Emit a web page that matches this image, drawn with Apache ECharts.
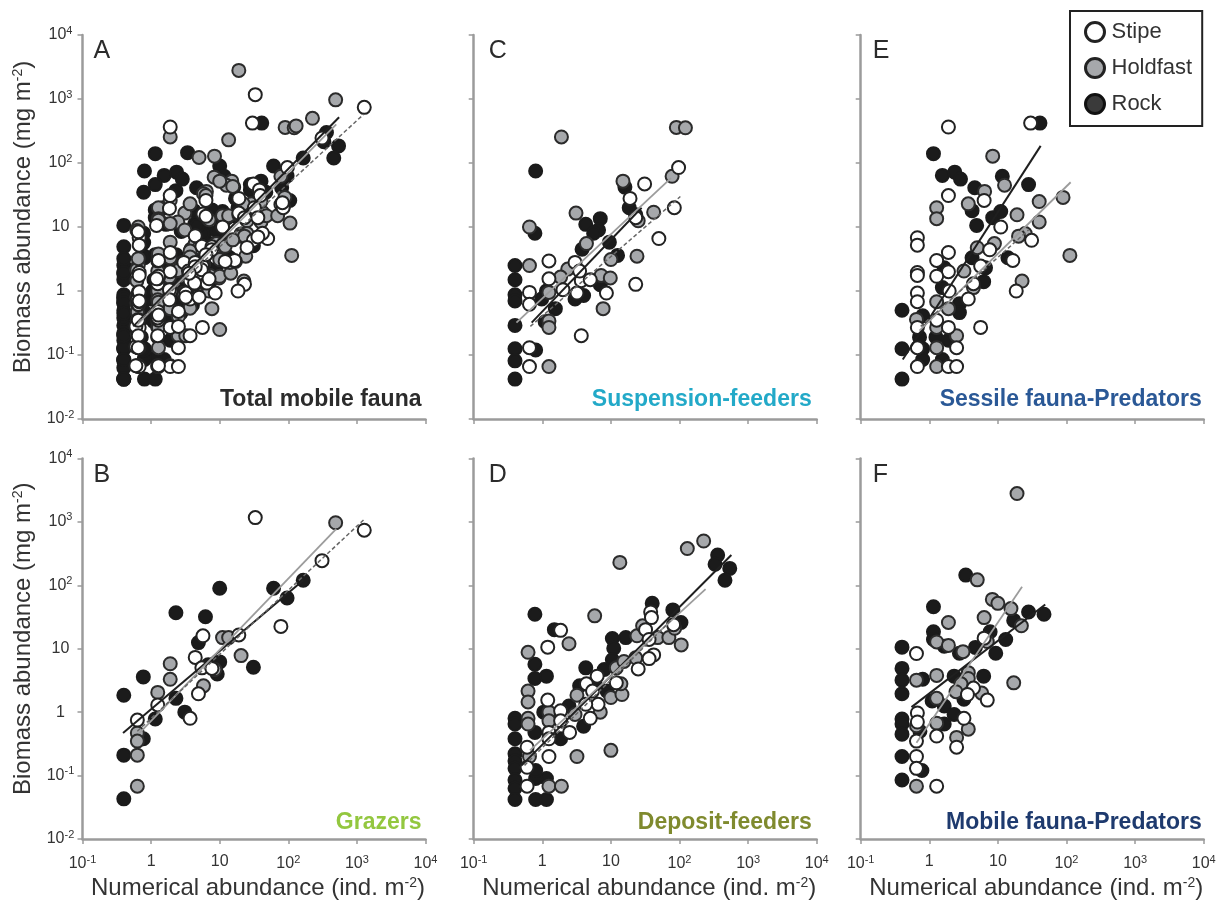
<!DOCTYPE html>
<html><head><meta charset="utf-8">
<style>html,body{margin:0;padding:0;background:#fff}#c{width:1223px;height:901px}</style>
<script src="https://cdn.jsdelivr.net/npm/echarts@6/dist/echarts.min.js"></script>
</head><body><div id="c"></div>
<script>
// ---- Grazers (B)
const grazersRock=[[.4,1.85],[.4,.21],[.4,.043],[.77,3.6],[.77,.38],[1.15,.78],[2.3,1.65],[2.3,37],[3.1,1],[4.9,12.5],[6.2,32],[6.8,5.6],[10,90],[10,6.2],[9.2,4],[31,5.1],[61,90],[96,63],[165,120]];
const grazersHold=[[490,970],[1.9,5.8],[1.9,3.3],[1.25,2.05],[.63,.47],[.63,.35],[.63,.21],[.63,.068],[5.8,2.6],[8.5,4.7],[11,15],[13.5,15],[20.5,7.8]];
const grazersStipe=[[33,1170],[1280,740],[310,245],[78,22.5],[19,16.5],[5.7,16],[4.4,7.3],[5.5,5],[7.7,4.9],[4.9,1.95],[3.7,.8],[1.25,1.3],[.63,.75]];
// ---- Suspension-feeders (C)
const suspRock=[[.4,2.5],[.4,1.5],[.4,.87],[.4,.7],[.4,.29],[.4,.125],[.4,.081],[.4,.042],[.8,75],[.78,8],[.8,.12],[1.15,1],[.98,.75],[1.55,.53],[1.1,.33],[3,.75],[4,.85],[7,1.25],[3.8,4.5],[4.3,11],[7,13.5],[6.6,9],[5.6,8],[9.5,5.8],[12.5,3.6],[16,42],[18.5,20],[23,15.5]];
const suspHold=[[1.9,255],[90,360],[122,355],[78,62],[15,52],[42,17],[3.1,16.5],[.65,10],[4.4,5.5],[.65,2.5],[2.35,2.2],[1.85,1.65],[1.25,.95],[1.25,.34],[1.25,.27],[1.25,.066],[7.7,.53],[10,3.1],[24,3.5],[7.2,1.75],[9.8,1.6],[25,12.5]];
const suspStipe=[[1.25,2.95],[1.25,1.55],[.65,.95],[.65,.62],[.65,.13],[.65,.066],[3,2.8],[3.7,1.45],[5,1.5],[3.2,.93],[2,1.05],[8.6,.93],[3.7,.2],[23,1.27],[50,6.6],[84,20],[31,47],[19,28],[23,14],[97,85],[3.5,2.05]];
// ---- Sessile fauna-Predators (E)
const sessileRock=[[41,420],[1.15,140],[1.55,64],[2.35,72],[2.85,56],[4.6,41],[11.6,62],[28,46],[4.2,18],[4.9,10.6],[8.4,14],[11,17.5],[4.2,3.3],[14,3.3],[6.6,2.3],[6.2,1.4],[1.65,2.3],[1.55,1.13],[2.75,.63],[2.75,.46],[.4,.5],[.8,.41],[.72,.19],[1.25,.19],[1.9,.17],[.4,.125],[.8,.125],[.8,.085],[1.55,.085],[.4,.042]];
const sessileHold=[[8.4,128],[12.5,45],[6.4,36],[3.7,23],[1.28,20],[1.28,13.5],[19,15.5],[40,25],[89,29],[40,12],[25,7.9],[20,7.2],[8.9,5.5],[5,4.75],[112,3.6],[22.5,1.43],[3.2,2.05],[4.4,1.13],[1.28,.68],[1.9,.53],[.65,.36],[1.28,.27],[2.5,.2],[1.28,.13],[1.28,.066]];
const sessileStipe=[[30,420],[1.9,365],[1.9,31],[6.3,26],[11,10],[31,6.2],[.67,6.8],[.67,5.2],[1.9,4],[7.6,4.4],[1.28,3],[16.5,3],[.67,1.95],[.67,1.75],[1.9,2],[1.28,1.7],[4.4,1.3],[5.6,2.45],[1.95,1],[.67,.93],[.67,.68],[18.5,1],[3.7,.75],[1.28,.35],[.67,.27],[1.9,.27],[5.6,.27],[.67,.13],[2.5,.13],[.67,.066],[1.9,.066],[2.5,.066]];
// ---- Deposit-feeders (D)
const depositRock=[[.4,.8],[.4,.65],[.4,.38],[.4,.22],[.4,.17],[.4,.13],[.4,.085],[.4,.063],[.4,.042],[.8,.042],[1.15,.042],[1.15,.09],[.8,.09],[.8,.12],[.78,35],[1.5,20],[.78,5.7],[.78,3.4],[1.15,3.7],[.78,.48],[1.85,.38],[1.05,1],[2.45,1.25],[4,.6],[3.5,2.6],[4.3,5],[8,4.7],[10.5,14.5],[11,10.2],[16.5,15],[10.5,6.7],[40,52],[80,41],[105,26],[360,300],[330,215],[540,185],[460,120],[5.9,2.7],[8.8,2.15]];
const depositHold=[[225,500],[130,380],[13.5,230],[5.8,33],[2.45,12],[.62,8.8],[.62,2.15],[.62,1.45],[.62,.8],[.62,.65],[1.25,1],[1.25,.73],[3.2,1.85],[3,.92],[3.2,.2],[10,.25],[1.25,.068],[1.9,.068],[.65,.2],[10,1.7],[14.5,1.9],[14,2.8],[7,1],[12,5],[23,7.2],[15.5,6.3],[24,16],[29,23],[48,15],[70,15],[106,11.5],[85,21]];
const depositStipe=[[1.85,19.5],[1.2,10.6],[38,38],[39,31],[32,20],[36,14],[82,24],[42,8],[36,7],[25,4.8],[6.3,3.7],[4.4,2.8],[12,2.9],[5.4,2.15],[6.5,1.33],[4.3,1.33],[5,.8],[1.2,1.55],[1.85,1.05],[1.85,.73],[2.5,.48],[1.25,.48],[1.25,.38],[1.25,.2],[.6,.28],[.6,.135],[.6,.068]];
// ---- Mobile fauna-Predators (F)
const mobileRock=[[.4,10.6],[.4,4.9],[.4,3.2],[.4,1.95],[.4,.78],[.4,.65],[.4,.45],[.4,.2],[.4,.085],[.8,3.3],[.78,.12],[1.15,46],[1.15,18.5],[1.15,14],[1.65,11],[2.75,8.5],[4.7,10.5],[3.4,145],[2.3,3.7],[6.2,3.7],[1.1,1.5],[1.65,1.25],[3.2,1.6],[2.3,.92],[1.65,.65],[.73,.5],[7.7,18.5],[9.3,8.5],[13,14],[17,28],[28,38],[47,35]];
const mobileHold=[[19,2800],[5,122],[8.3,60],[10,52],[15.5,43],[6.3,31],[1.9,26],[22,23],[1.28,12.8],[1.9,11.3],[3.1,9],[7,13],[.65,3.2],[1.28,3.8],[3.7,4.2],[3.7,3.4],[2.9,2.8],[2.45,2.1],[5.8,2],[17,2.9],[1.28,1.65],[1.28,.67],[3.7,.54],[2.5,.4],[.65,.61],[.65,.068]];
const mobileStipe=[[.65,8.4],[6.3,14.7],[4.4,2.4],[3.6,1.9],[7,1.55],[.67,.97],[.67,.7],[3.2,.8],[1.28,.42],[.65,.35],[2.5,.28],[.65,.2],[.65,.13],[1.28,.068]];
// ---- Total mobile fauna (A): the union of the trophic groups
const totalRock=[...grazersRock,...suspRock,...sessileRock,...depositRock,...mobileRock];
const totalHold=[...grazersHold,...suspHold,...sessileHold,...depositHold,...mobileHold];
const totalStipe=[...grazersStipe,...suspStipe,...sessileStipe,...depositStipe,...mobileStipe];
// ---- Fitted line end points
const totalFits={rock:[[.55,.28],[550,520]],hold:[[.63,.3],[500,400]],stipe:[[.65,.33],[1250,575]]};
const grazersFits={rock:[[.39,.47],[165,120]],hold:[[.68,.47],[500,780]],stipe:[[.63,.5],[1280,1100]]};
const suspFits={rock:[[.7,.32],[28,20]],hold:[[.42,.32],[75,58]],stipe:[[.67,.28],[103,30]]};
const depositFits={rock:[[.5,.145],[570,300]],hold:[[.66,.25],[240,87]],stipe:[[.55,.145],[95,36]]};
const sessileFits={rock:[[.41,.085],[42,185]],hold:[[.72,.24],[115,50]],stipe:[[.75,.28],[28,9]]};
const mobileFits={rock:[[.55,1.2],[49,50]],hold:[[.65,.33],[22.5,95]]};
// ---- Text
const seriesNames=['Stipe','Holdfast','Rock'];
const xAxisTitle='Numerical abundance (ind. m{sup|-2})';
const yAxisTitle='Biomass abundance (mg m{sup|-2})';
const panels=[
 {letter:'A',title:'Total mobile fauna',color:'#2b2b2b',col:0,row:0,rock:totalRock,hold:totalHold,stipe:totalStipe,fits:totalFits},
 {letter:'B',title:'Grazers',color:'#93c73f',col:0,row:1,rock:grazersRock,hold:grazersHold,stipe:grazersStipe,fits:grazersFits},
 {letter:'C',title:'Suspension-feeders',color:'#22a9c8',col:1,row:0,rock:suspRock,hold:suspHold,stipe:suspStipe,fits:suspFits},
 {letter:'D',title:'Deposit-feeders',color:'#7f8a2e',col:1,row:1,rock:depositRock,hold:depositHold,stipe:depositStipe,fits:depositFits},
 {letter:'E',title:'Sessile fauna-Predators',color:'#2a5896',col:2,row:0,rock:sessileRock,hold:sessileHold,stipe:sessileStipe,fits:sessileFits},
 {letter:'F',title:'Mobile fauna-Predators',color:'#1e3a6e',col:2,row:1,rock:mobileRock,hold:mobileHold,stipe:mobileStipe,fits:mobileFits}
];
const colLeft=[82.5,473.7,860.7], rowTop=[35,458.5], W=343, H=384;
const letterDx=[11,15,12], titleInset=[4,5,2];
const FONT='"Liberation Sans",Arial,sans-serif';
const sup={sup:{fontSize:11,fontFamily:FONT,color:'#333',padding:[0,0,9,0]}};
const fmt=v=>{const e=Math.round(Math.log10(v));return e===0?'1':e===1?'10':'10{sup|'+e+'}';};
const styleOf={
 Rock:{color:'#1b1b1b',borderColor:'#1b1b1b',borderWidth:2,opacity:1},
 Holdfast:{color:'#a6a8ab',borderColor:'#2b2b2b',borderWidth:2,opacity:1},
 Stipe:{color:'#ffffff',borderColor:'#222222',borderWidth:2,opacity:1}
};
const lineOf={
 rock:{color:'#1f1f1f',width:2,type:'solid'},
 hold:{color:'#9c9c9c',width:1.8,type:'solid'},
 stipe:{color:'#666666',width:1.5,type:[4,2.5]}
};
const grid=[],xAxis=[],yAxis=[],series=[],graphic=[];
const nameSup={sup:{fontSize:14,fontFamily:FONT,color:'#333',padding:[0,0,10,0]}};
panels.forEach((p,i)=>{
 const L=colLeft[p.col],T=rowTop[p.row];
 grid.push({left:L,top:T,width:W,height:H,containLabel:false});
 const axLine={show:true,onZero:false,lineStyle:{color:'#9b9b9b',width:2.5}};
 const tick={show:true,length:5,lineStyle:{color:'#9b9b9b',width:1.5}};
 xAxis.push({type:'log',logBase:10,min:0.1,max:10000,gridIndex:i,axisLine:axLine,axisTick:tick,splitLine:{show:false},minorTick:{show:false},
  axisLabel:{show:p.row===1,formatter:fmt,fontFamily:FONT,fontSize:16,color:'#333',margin:15,rich:sup,showMinLabel:true,showMaxLabel:true,hideOverlap:false},
  name:p.row===1?xAxisTitle:'',nameLocation:'middle',nameGap:37,nameTextStyle:{fontFamily:FONT,fontSize:24,color:'#333',padding:[0,0,0,8],rich:nameSup}});
 yAxis.push({type:'log',logBase:10,min:0.01,max:10000,gridIndex:i,axisLine:axLine,axisTick:tick,splitLine:{show:false},minorTick:{show:false},
  axisLabel:{show:p.col===0,formatter:fmt,fontFamily:FONT,fontSize:16,color:'#333',margin:22,align:'center',rich:sup,showMinLabel:true,showMaxLabel:true,hideOverlap:false},
  name:p.col===0?yAxisTitle:'',nameLocation:'middle',nameGap:47,nameTextStyle:{fontFamily:FONT,fontSize:24,color:'#333',padding:[0,0,0,20],rich:nameSup}});
 [['Rock',p.rock],['Holdfast',p.hold],['Stipe',p.stipe]].forEach(([n,d])=>{
  series.push({type:'scatter',name:n,xAxisIndex:i,yAxisIndex:i,data:d,symbol:'circle',symbolSize:13,itemStyle:styleOf[n],silent:true,z:2,animation:false});
 });
 Object.keys(p.fits).forEach(k=>{
  series.push({type:'line',name:p.letter+' '+k+' fit',xAxisIndex:i,yAxisIndex:i,data:p.fits[k],showSymbol:false,symbol:'none',lineStyle:lineOf[k],silent:true,z:3,animation:false});
 });
 graphic.push({type:'text',left:L+letterDx[p.col],top:T+4,silent:true,style:{text:p.letter,font:'25px '+FONT,fill:'#2b2b2b'}});
 graphic.push({type:'text',right:1223-(L+W-titleInset[p.col]),top:T+H-31,silent:true,style:{text:p.title,font:'bold 23px '+FONT,fill:p.color}});
});
const chart=echarts.init(document.getElementById('c'),null,{renderer:'canvas'});
chart.setOption({
 animation:false,backgroundColor:'#fff',grid,xAxis,yAxis,series,graphic,
 tooltip:{show:false},
 legend:{show:true,orient:'vertical',left:1070,top:11,selectedMode:false,
  data:seriesNames.map(n=>({name:n,icon:'circle',itemStyle:n==='Rock'?{color:'#3a3a3a',borderColor:'#111',borderWidth:3,opacity:1}:{color:styleOf[n].color,borderColor:'#222',borderWidth:3,opacity:1}})),
  itemWidth:19,itemHeight:19,itemGap:14,padding:[10,10,11,14],backgroundColor:'#fff',borderColor:'#222',borderWidth:2,
  textStyle:{fontFamily:FONT,fontSize:22,color:'#333',padding:[0,0,0,2]}}
});
</script></body></html>
